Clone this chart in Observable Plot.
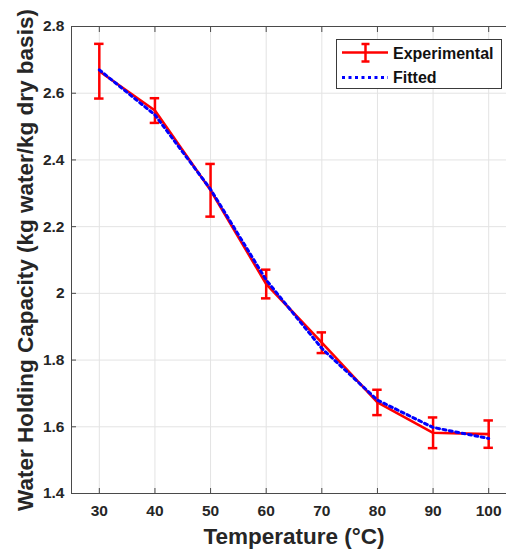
<!DOCTYPE html>
<html>
<head>
<meta charset="utf-8">
<script src="https://cdn.jsdelivr.net/npm/d3@7"></script>
<script src="https://cdn.jsdelivr.net/npm/@observablehq/plot@0.6"></script>
<style>
  html, body { margin: 0; padding: 0; background: #fff; }
  #wrap { position: relative; width: 506px; height: 549px; overflow: hidden; }
  #chart svg { max-width: none !important; }
  #legend { position: absolute; left: 336px; top: 39px; width: 164px; height: 48px; border: 1px solid #3a3a3a; background: #fff; }
</style>
</head>
<body>
<div id="wrap"><div id="chart"></div><div id="legend"></div></div>
<script>
const temperatures = [30, 40, 50, 60, 70, 80, 90, 100];
const experimental = [2.666, 2.548, 2.309, 2.028, 1.852, 1.673, 1.582, 1.578];
const errors = [0.082, 0.037, 0.079, 0.043, 0.031, 0.038, 0.046, 0.041];
const fitted = [2.670, 2.535, 2.312, 2.040, 1.835, 1.680, 1.598, 1.565];
const xTicks = [30, 40, 50, 60, 70, 80, 90, 100];
const yTicks = [1.4, 1.6, 1.8, 2.0, 2.2, 2.4, 2.6, 2.8];
const xLabel = "Temperature (°C)";
const yLabel = "Water Holding Capacity (kg water/kg dry basis)";
const seriesNames = ["Experimental", "Fitted"];

const rows = temperatures.map((t, i) => ({t, v: experimental[i], e: errors[i], f: fitted[i]}));
const capHalf = 0.85;
const red = "#ff0000", blue = "#0000ff";

const chart = Plot.plot({
  width: 520,
  height: 549,
  marginLeft: 71,
  marginRight: 4,
  marginTop: 26,
  marginBottom: 56,
  style: {fontFamily: "'Liberation Sans', Arial, sans-serif", color: "#262626", background: "#fff", maxWidth: "none"},
  x: {domain: [25, 105]},
  y: {domain: [1.4, 2.8]},
  marks: [
    Plot.gridX(xTicks, {stroke: "#e3e3e3", strokeOpacity: 1, strokeWidth: 1}),
    Plot.gridY(yTicks, {stroke: "#e3e3e3", strokeOpacity: 1, strokeWidth: 1}),
    Plot.frame({stroke: "#4a4a4a", strokeWidth: 1}),
    Plot.axisX(xTicks, {anchor: "bottom", tickSize: 5, dy: -5, fill: "none", label: null, stroke: "#4a4a4a"}),
    Plot.axisX(xTicks, {anchor: "top", tickSize: 5, dy: 5, fill: "none", label: null, stroke: "#4a4a4a"}),
    Plot.axisY(yTicks, {anchor: "left", tickSize: 5, dx: 5, fill: "none", label: null, stroke: "#4a4a4a"}),
    Plot.axisX(xTicks, {anchor: "bottom", tickSize: 0, tickPadding: 11, label: null, fontSize: 15.5, fontWeight: "bold", fill: "#262626"}),
    Plot.axisY(yTicks, {anchor: "left", tickSize: 0, tickPadding: 7, label: null, fontSize: 15.5, fontWeight: "bold", fill: "#262626", tickFormat: d => d3.format("~g")(d)}),
    Plot.ruleX(rows, {x: "t", y1: d => d.v - d.e, y2: d => d.v + d.e, stroke: red, strokeWidth: 2.5}),
    Plot.ruleY(rows, {y: d => d.v + d.e, x1: d => d.t - capHalf, x2: d => d.t + capHalf, stroke: red, strokeWidth: 2.5}),
    Plot.ruleY(rows, {y: d => d.v - d.e, x1: d => d.t - capHalf, x2: d => d.t + capHalf, stroke: red, strokeWidth: 2.5}),
    Plot.line(rows, {x: "t", y: "v", stroke: red, strokeWidth: 2.6}),
    Plot.line(rows, {x: "t", y: "f", stroke: blue, strokeWidth: 3, strokeDasharray: "3 3.5"}),
    Plot.text([xLabel], {frameAnchor: "bottom", dy: 43, lineAnchor: "middle", fontSize: 22.5, fontWeight: "bold", fill: "#262626"}),
    Plot.text([yLabel], {frameAnchor: "left", rotate: -90, dx: -46, textAnchor: "middle", fontSize: 22.5, fontWeight: "bold", fill: "#262626"})
  ]
});
document.getElementById("chart").appendChild(chart);

// legend
const lg = d3.select("#legend").append("svg").attr("width", 164).attr("height", 48)
  .style("font-family", "'Liberation Sans', Arial, sans-serif");
lg.append("line").attr("x1", 5).attr("x2", 51).attr("y1", 12.5).attr("y2", 12.5).attr("stroke", red).attr("stroke-width", 2.5);
lg.append("line").attr("x1", 28.5).attr("x2", 28.5).attr("y1", 4).attr("y2", 21.5).attr("stroke", red).attr("stroke-width", 2.5);
lg.append("line").attr("x1", 24.5).attr("x2", 32.5).attr("y1", 4).attr("y2", 4).attr("stroke", red).attr("stroke-width", 2.5);
lg.append("line").attr("x1", 24.5).attr("x2", 32.5).attr("y1", 21.5).attr("y2", 21.5).attr("stroke", red).attr("stroke-width", 2.5);
lg.append("line").attr("x1", 5).attr("x2", 51).attr("y1", 37.5).attr("y2", 37.5).attr("stroke", blue).attr("stroke-width", 3).attr("stroke-dasharray", "3 3.5");
lg.append("text").attr("x", 56).attr("y", 13).attr("dy", "0.35em").attr("font-size", 16).attr("font-weight", "bold").attr("fill", "#111").text(seriesNames[0]);
lg.append("text").attr("x", 56).attr("y", 37.5).attr("dy", "0.35em").attr("font-size", 16).attr("font-weight", "bold").attr("fill", "#111").text(seriesNames[1]);
</script>
</body>
</html>
